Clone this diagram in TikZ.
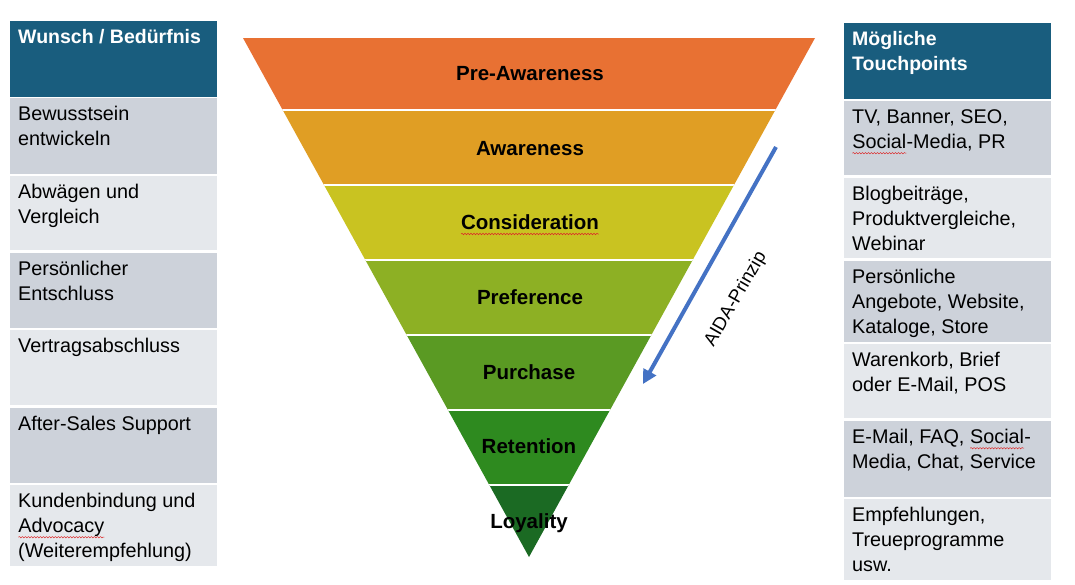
\documentclass[tikz,border=0pt]{standalone}
\usepackage{fontspec}
\setmainfont{Liberation Sans}
\usetikzlibrary{arrows.meta,decorations.pathmorphing}
\definecolor{spellred}{RGB}{220,40,40}
\definecolor{hdr}{RGB}{25,93,126}
\definecolor{rowdark}{RGB}{205,210,218}
\definecolor{rowlight}{RGB}{229,232,236}
\definecolor{bandA}{RGB}{232,113,51}
\definecolor{bandB}{RGB}{224,158,36}
\definecolor{bandC}{RGB}{201,195,33}
\definecolor{bandD}{RGB}{141,176,36}
\definecolor{bandE}{RGB}{90,154,35}
\definecolor{bandF}{RGB}{46,138,31}
\definecolor{bandG}{RGB}{27,106,35}
\definecolor{aidablue}{RGB}{68,114,196}
\newcommand\redwave[1]{\tikz[baseline=(w.base)]{\node[anchor=base,inner sep=0pt,outer sep=0pt] (w) at (0,0) {#1};
  \draw[spellred,line width=0.5pt,decorate,decoration={snake,amplitude=0.7pt,segment length=3pt}] ([yshift=-4.5pt]w.base west) -- ([yshift=-4.5pt]w.base east);}}
\begin{document}
\begin{tikzpicture}[x=1pt,y=-1pt,
  celltext/.style={anchor=north west, inner sep=0pt, align=left, font=\fontsize{19.8}{25}\selectfont},
  hdrtext/.style={anchor=north west, inner sep=0pt, align=left, text=white, font=\fontsize{19.5}{25}\selectfont\bfseries},
  bandlabel/.style={anchor=base, inner sep=0pt, font=\fontsize{20.5}{22}\selectfont\bfseries},
  aidaarrow/.style={draw=aidablue, line width=4pt, -{Triangle[length=14pt,width=14pt]}}]
\useasboundingbox (0,0) rectangle (1075,584);
\fill[white] (0,0) rectangle (1075,584);

% ---------- left table ----------
\fill[hdr] (10,21) rectangle (217,97);
\fill[rowdark] (10,98) rectangle (217,174);
\fill[rowlight] (10,176) rectangle (217,250);
\fill[rowdark] (10,253) rectangle (217,328);
\fill[rowlight] (10,330) rectangle (217,405);
\fill[rowdark] (10,408) rectangle (217,483);
\fill[rowlight] (10,485) rectangle (217,566);

\node[hdrtext] (lh) at (18,25.5) {\strut Wunsch / Bedürfnis};
\node[celltext] (l1) at (18,103) {\strut Bewusstsein\\entwickeln};
\node[celltext] (l2) at (18,181) {\strut Abwägen und\\Vergleich};
\node[celltext] (l3) at (18,258) {\strut Persönlicher\\Entschluss};
\node[celltext] (l4) at (18,335) {\strut Vertragsabschluss};
\node[celltext] (l5) at (18,413) {\strut After-Sales Support};
\node[celltext] (l6) at (18,490) {\strut Kundenbindung und\\\redwave{Advocacy}\\(Weiterempfehlung)};

% ---------- right table ----------
\fill[hdr] (844,23) rectangle (1051,99);
\fill[rowdark] (844,101) rectangle (1051,175);
\fill[rowlight] (844,178) rectangle (1051,258);
\fill[rowdark] (844,261) rectangle (1051,342);
\fill[rowlight] (844,344) rectangle (1051,418);
\fill[rowdark] (844,421) rectangle (1051,497);
\fill[rowlight] (844,499) rectangle (1051,580);

\node[hdrtext] (rh) at (852,27.5) {\strut Mögliche\\Touchpoints};
\node[celltext] (r1) at (852,106) {\strut TV, Banner, SEO,\\\redwave{Social}-Media, PR};
\node[celltext] (r2) at (852,183) {\strut Blogbeiträge,\\Produktvergleiche,\\Webinar};
\node[celltext] (r3) at (852,266) {\strut Persönliche\\Angebote, Website,\\Kataloge, Store};
\node[celltext] (r4) at (852,349) {\strut Warenkorb, Brief\\oder E-Mail, POS};
\node[celltext] (r5) at (852,426) {\strut E-Mail, FAQ, \redwave{Social}-\\Media, Chat, Service};
\node[celltext] (r6) at (852,504) {\strut Empfehlungen,\\Treueprogramme\\usw.};

% ---------- funnel ----------
\begin{scope}
  \clip (243,38) -- (815,38) -- (529,557) -- cycle;
  \fill[bandA] (200,30) rectangle (860,110);
  \fill[bandB] (200,110) rectangle (860,185);
  \fill[bandC] (200,185) rectangle (860,260);
  \fill[bandD] (200,260) rectangle (860,335);
  \fill[bandE] (200,335) rectangle (860,410);
  \fill[bandF] (200,410) rectangle (860,485);
  \fill[bandG] (200,485) rectangle (860,560);
  \foreach \yy in {110,185,260,335,410,485}
    \draw[white, line width=2.5pt] (200,\yy) -- (860,\yy);
\end{scope}

\node[bandlabel] (f1) at (530,80.5) {Pre-Awareness};
\node[bandlabel] (f2) at (530,155) {Awareness};
\node[bandlabel] (f3) at (530,229.5) {\redwave{Consideration}};
\node[bandlabel] (f4) at (530,304) {Preference};
\node[bandlabel] (f5) at (529,379) {Purchase};
\node[bandlabel] (f6) at (529,453) {Retention};
\node[bandlabel] (f7) at (529,528) {Loyality};

% ---------- AIDA arrow ----------
\coordinate (a1) at (776,147);
\coordinate (a2) at (643,384);
\draw[aidaarrow] (a1) -- (a2);
\node[rotate=60, inner sep=0pt, font=\fontsize{18.5}{20}\selectfont] (aida) at (736,299) {AIDA-Prinzip};
\end{tikzpicture}
\end{document}
